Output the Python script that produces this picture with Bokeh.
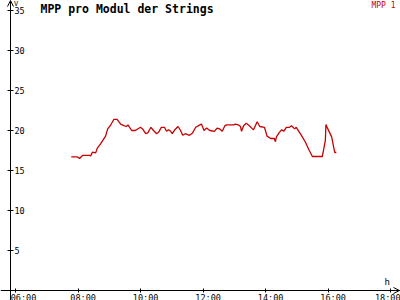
import pandas as pd
from bokeh.plotting import figure
from bokeh.models import (LinearAxis, DatetimeAxis, FixedTicker, DatetimeTickFormatter,
                          Range1d, Label, Arrow, OpenHead, ColumnDataSource)
from bokeh.embed import file_html
from bokeh.resources import INLINE

# ---------------- data ----------------
times = ["07:47", "07:59", "08:03", "08:09", "08:22", "08:24", "08:28", "08:34", "08:37", "08:43",
         "08:53", "08:57", "09:02", "09:09", "09:15", "09:22", "09:28", "09:33", "09:36", "09:43",
         "09:50", "10:00", "10:04", "10:10", "10:14", "10:20", "10:25", "10:31", "10:35", "10:40",
         "10:46", "10:50", "10:54", "10:58", "11:01", "11:06", "11:12", "11:17", "11:21", "11:26",
         "11:34", "11:40", "11:46", "11:54", "11:57", "12:02", "12:07", "12:13", "12:22", "12:27",
         "12:32", "12:37", "12:42", "12:46", "12:53", "12:59", "13:02", "13:08", "13:12", "13:14",
         "13:18", "13:23", "13:29", "13:35", "13:37", "13:44", "13:49", "13:58", "14:03", "14:10",
         "14:17", "14:19", "14:21", "14:26", "14:31", "14:35", "14:40", "14:46", "14:50", "14:56",
         "14:59", "15:04", "15:09", "15:17", "15:24", "15:30", "15:49", "15:51", "15:55", "15:56",
         "15:59", "16:07", "16:11", "16:13", "16:16"]
mpp1_volts = [16.7, 16.7, 16.5, 16.9, 16.9, 16.8, 17.3, 17.2, 17.8, 18.3,
              19.3, 20.2, 20.6, 21.4, 21.4, 20.8, 20.6, 20.5, 20.7, 20.0,
              20.0, 20.4, 20.2, 19.6, 19.7, 20.4, 20.0, 19.6, 19.8, 20.4,
              20.4, 19.9, 20.1, 19.9, 19.6, 20.1, 20.5, 20.0, 19.4, 19.6,
              19.4, 19.7, 20.4, 20.7, 20.8, 20.0, 20.3, 20.0, 19.9, 20.3,
              20.2, 19.9, 20.6, 20.7, 20.7, 20.7, 20.8, 20.7, 20.5, 19.9,
              20.6, 20.9, 20.6, 20.2, 20.1, 21.1, 20.5, 20.4, 19.3, 19.0,
              19.0, 18.6, 19.2, 19.7, 20.1, 19.9, 20.4, 20.4, 20.6, 20.2,
              20.4, 19.9, 19.4, 18.5, 17.5, 16.75, 16.75, 17.4, 18.8, 20.75,
              20.3, 19.2, 17.9, 17.25, 17.25]
y_ticks = [5, 10, 15, 20, 25, 30, 35]
x_tick_labels = ["06:00", "08:00", "10:00", "12:00", "14:00", "16:00", "18:00"]
series_name = "MPP 1"
title_text = "MPP pro Modul der Strings"
y_unit = "V"
x_unit = "h"

# ---------------- geometry ----------------
DAY = "2024-06-01 "
HOUR = 3600000.0


def ms(t):
    return pd.Timestamp(DAY + t).timestamp() * 1000.0


W, H = 400, 300
PX_PER_HOUR = 31.25
PX_PER_UNIT = 8.0
X_TICK0_PX = 15      # pixel of 06:00
ZERO_PX = 290        # pixel row of y = 0
YAXIS_PX = 10        # pixel column of y axis

x_start = ms(x_tick_labels[0]) - X_TICK0_PX / PX_PER_HOUR * HOUR
x_end = x_start + W / PX_PER_HOUR * HOUR
y_start = -(H - ZERO_PX) / PX_PER_UNIT
y_end = ZERO_PX / PX_PER_UNIT


def px_x(px):
    return x_start + px / PX_PER_HOUR * HOUR


def px_y(py):
    return (ZERO_PX - py) / PX_PER_UNIT


FONT = "DejaVu Sans Mono"
RED = "#c80000"

p = figure(width=W, height=H, x_range=Range1d(x_start, x_end), y_range=Range1d(y_start, y_end),
           x_axis_location=None, y_axis_location=None, x_axis_type="datetime",
           toolbar_location=None, output_backend="svg", min_border=0,
           outline_line_color=None, background_fill_color="white", border_fill_color="white")
p.grid.visible = False

src = ColumnDataSource(dict(t=[ms(t) for t in times], v=mpp1_volts))
p.line("t", "v", source=src, line_color=RED, line_width=1.3)

# y axis (labels to the right of the line)
yaxis = LinearAxis(fixed_location=px_x(YAXIS_PX), ticker=FixedTicker(ticks=y_ticks),
                   major_tick_in=3, major_tick_out=3, minor_tick_line_color=None,
                   major_label_standoff=1, major_label_text_font=FONT,
                   major_label_text_font_size="8.5px", major_label_text_color="black",
                   axis_line_color="black", major_tick_line_color="black")
p.add_layout(yaxis, "right")

# x axis; labels start just left of their tick (shifted with non-breaking spaces)
x_tick_ms = [ms(t) for t in x_tick_labels]
fmt = DatetimeTickFormatter(hours="%H:%M", hourmin="%H:%M", minutes="%H:%M", days="%H:%M")
fmt.context = None
xaxis = DatetimeAxis(fixed_location=0, ticker=FixedTicker(ticks=x_tick_ms),
                     formatter=fmt, major_tick_in=2, major_tick_out=2,
                     minor_tick_line_color=None, major_label_standoff=0,
                     major_label_text_font=FONT, major_label_text_font_size="8.5px",
                     major_label_text_color="black",
                     major_label_overrides={v: "\u00a0\u00a0" + t
                                            for v, t in zip(x_tick_ms, x_tick_labels)},
                     axis_line_color="black", major_tick_line_color="black")
p.add_layout(xaxis, "below")

# axis arrows
p.add_layout(Arrow(end=OpenHead(size=6, line_width=1, line_color="black"),
                   x_start=px_x(YAXIS_PX), y_start=px_y(10), x_end=px_x(YAXIS_PX), y_end=px_y(0),
                   line_color="black", line_width=1))
p.add_layout(Arrow(end=OpenHead(size=6, line_width=1, line_color="black"),
                   x_start=px_x(385), y_start=0, x_end=px_x(399), y_end=0,
                   line_color="black", line_width=1))

# texts
p.add_layout(Label(x=px_x(40), y=px_y(8), text=title_text, text_font=FONT,
                   text_font_style="bold", text_font_size="11.5px", text_align="left",
                   text_baseline="middle", text_color="black"))
p.add_layout(Label(x=px_x(395), y=px_y(4.5), text=series_name, text_font=FONT,
                   text_font_size="8px", text_align="right", text_baseline="middle",
                   text_color=RED))
p.add_layout(Label(x=px_x(13.5), y=px_y(3), text=y_unit, text_font=FONT,
                   text_font_size="7px", text_align="left", text_baseline="middle",
                   text_color="black"))
p.add_layout(Label(x=px_x(384), y=px_y(281), text=x_unit, text_font=FONT,
                   text_font_size="9px", text_align="left", text_baseline="middle",
                   text_color="black"))

open("out.html", "w").write(file_html(p, INLINE))
